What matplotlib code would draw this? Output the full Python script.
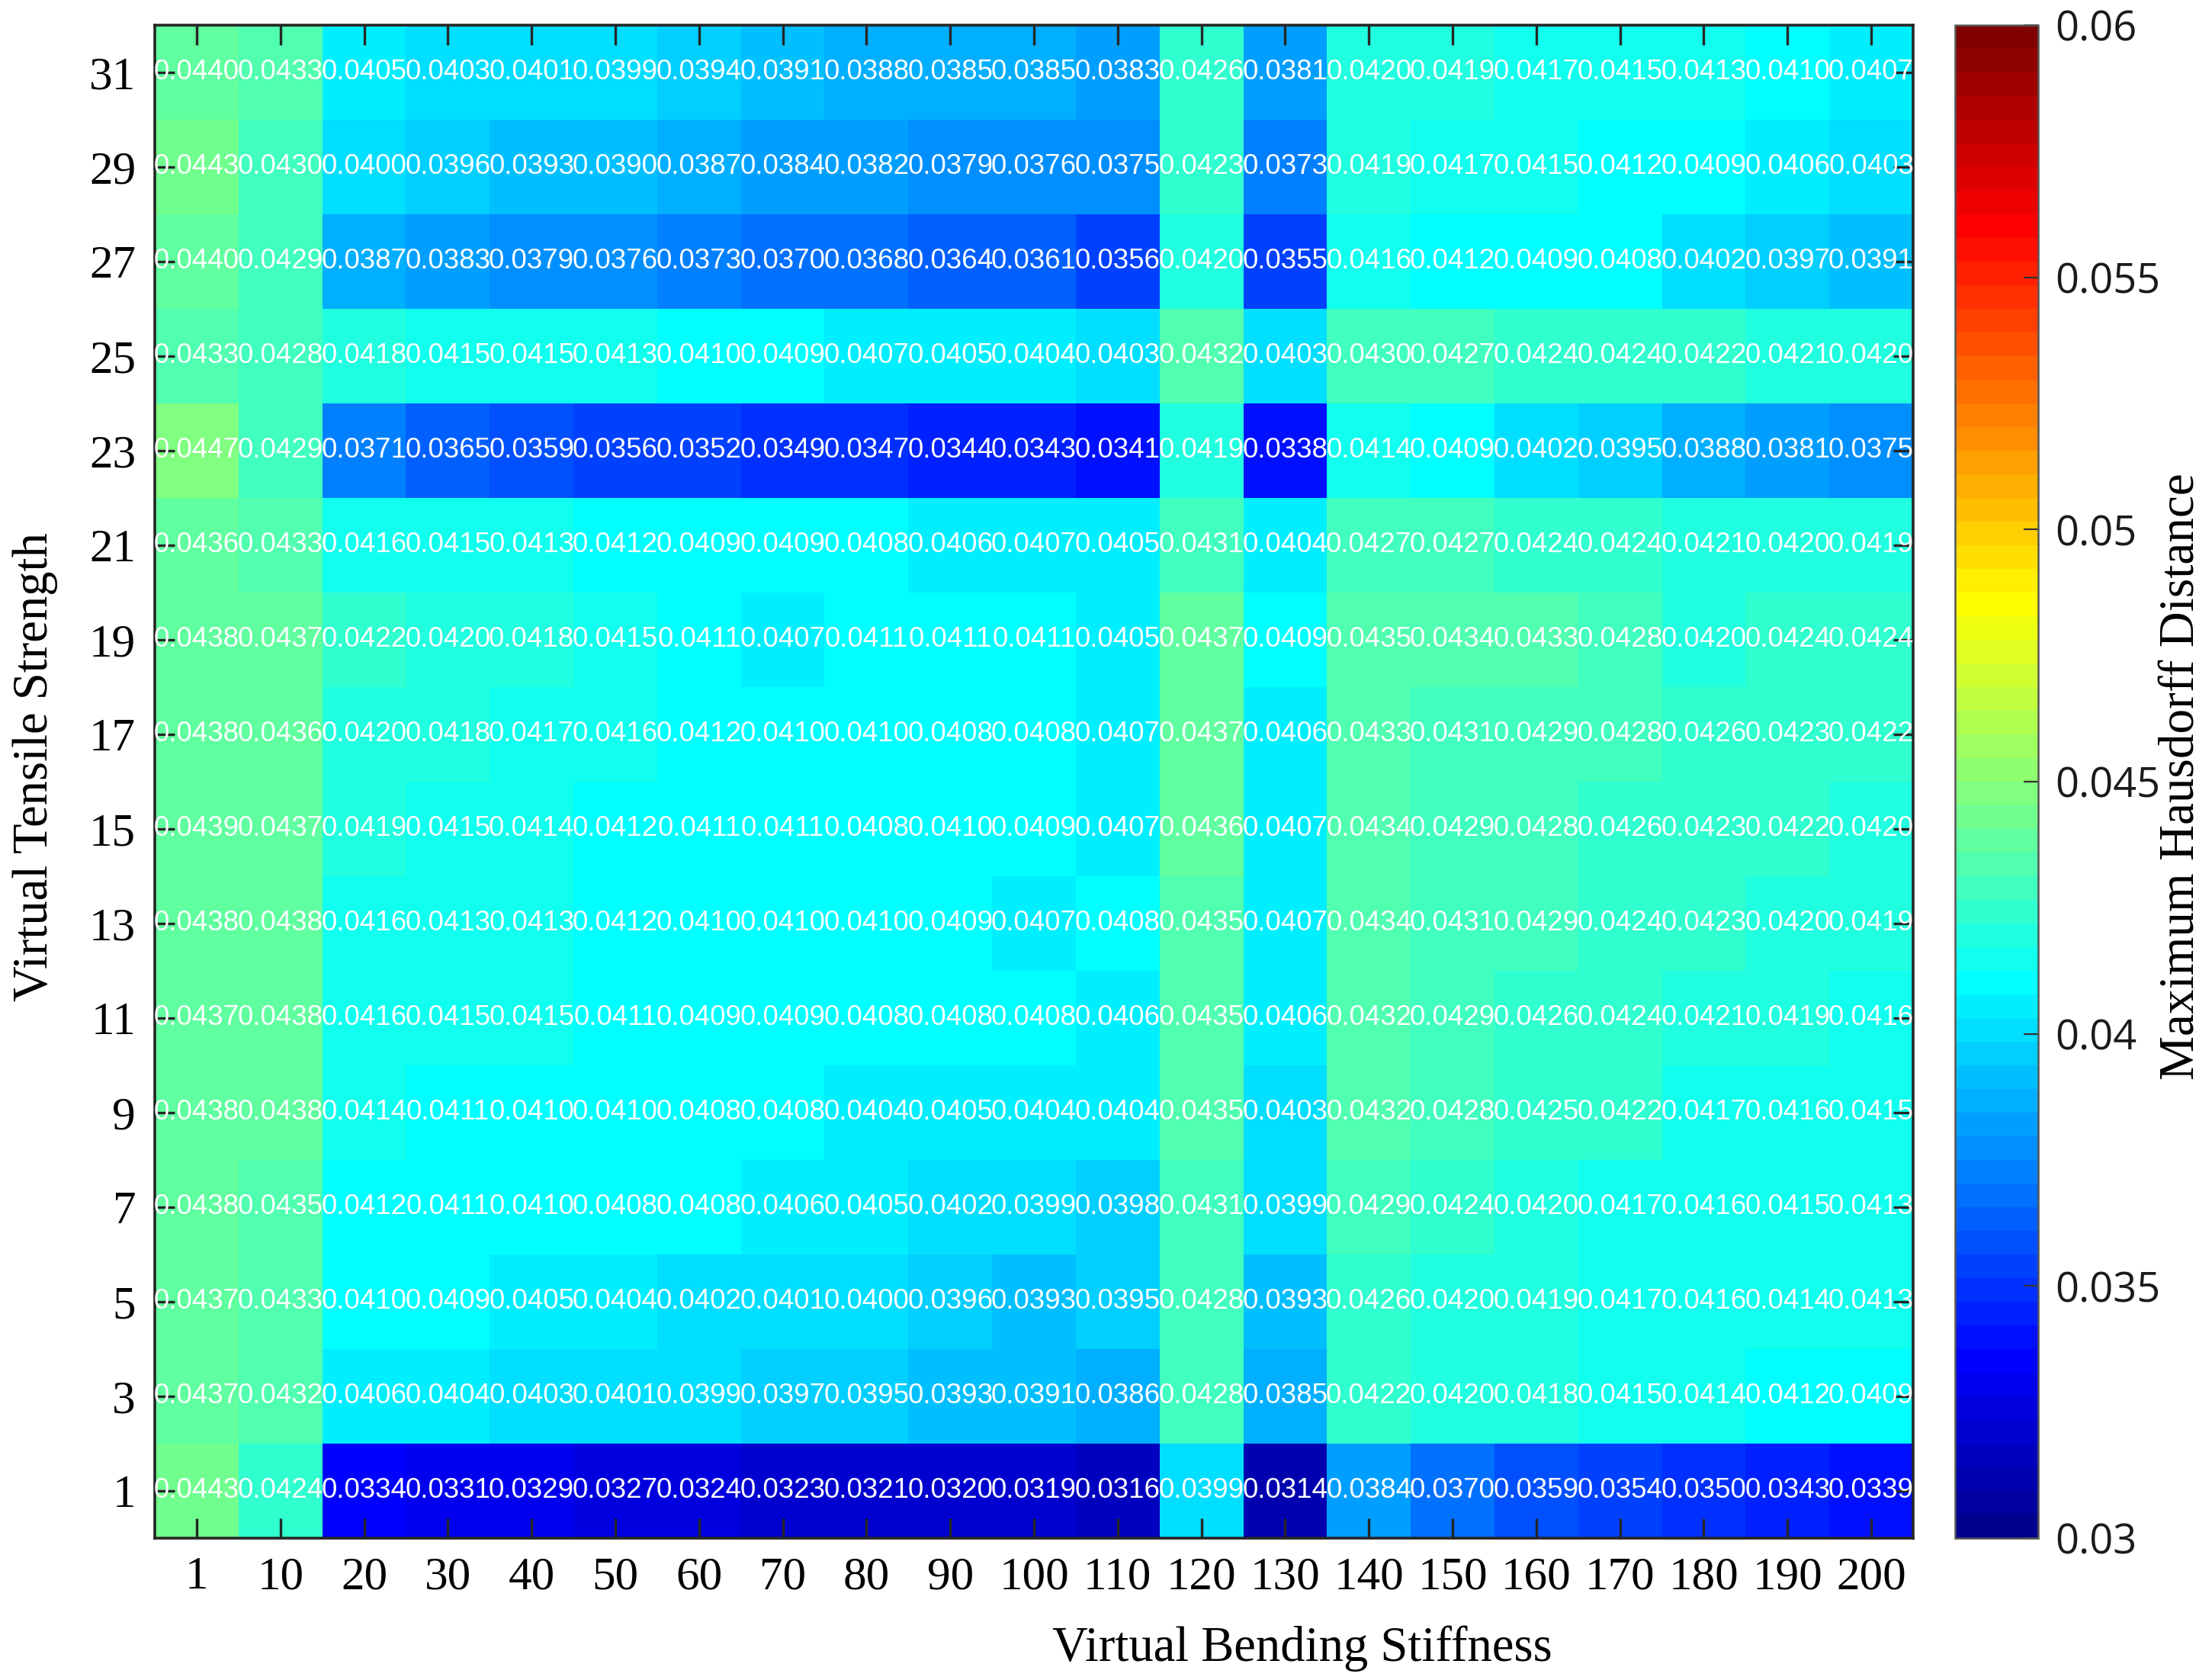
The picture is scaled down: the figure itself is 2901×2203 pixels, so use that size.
import numpy as np
import matplotlib
matplotlib.use("Agg")
import matplotlib.pyplot as plt
from matplotlib.colors import ListedColormap, Normalize

# ---------------- data ----------------
bending_labels = ["1", "10", "20", "30", "40", "50", "60", "70", "80", "90", "100",
                  "110", "120", "130", "140", "150", "160", "170", "180", "190", "200"]
tensile_values = [1, 3, 5, 7, 9, 11, 13, 15, 17, 19, 21, 23, 25, 27, 29, 31]

ts_1  = [0.0443, 0.0424, 0.0334, 0.0331, 0.0329, 0.0327, 0.0324, 0.0323, 0.0321, 0.0320, 0.0319, 0.0316, 0.0399, 0.0314, 0.0384, 0.0370, 0.0359, 0.0354, 0.0350, 0.0343, 0.0339]
ts_3  = [0.0437, 0.0432, 0.0406, 0.0404, 0.0403, 0.0401, 0.0399, 0.0397, 0.0395, 0.0393, 0.0391, 0.0386, 0.0428, 0.0385, 0.0422, 0.0420, 0.0418, 0.0415, 0.0414, 0.0412, 0.0409]
ts_5  = [0.0437, 0.0433, 0.0410, 0.0409, 0.0405, 0.0404, 0.0402, 0.0401, 0.0400, 0.0396, 0.0393, 0.0395, 0.0428, 0.0393, 0.0426, 0.0420, 0.0419, 0.0417, 0.0416, 0.0414, 0.0413]
ts_7  = [0.0438, 0.0435, 0.0412, 0.0411, 0.0410, 0.0408, 0.0408, 0.0406, 0.0405, 0.0402, 0.0399, 0.0398, 0.0431, 0.0399, 0.0429, 0.0424, 0.0420, 0.0417, 0.0416, 0.0415, 0.0413]
ts_9  = [0.0438, 0.0438, 0.0414, 0.0411, 0.0410, 0.0410, 0.0408, 0.0408, 0.0404, 0.0405, 0.0404, 0.0404, 0.0435, 0.0403, 0.0432, 0.0428, 0.0425, 0.0422, 0.0417, 0.0416, 0.0415]
ts_11 = [0.0437, 0.0438, 0.0416, 0.0415, 0.0415, 0.0411, 0.0409, 0.0409, 0.0408, 0.0408, 0.0408, 0.0406, 0.0435, 0.0406, 0.0432, 0.0429, 0.0426, 0.0424, 0.0421, 0.0419, 0.0416]
ts_13 = [0.0438, 0.0438, 0.0416, 0.0413, 0.0413, 0.0412, 0.0410, 0.0410, 0.0410, 0.0409, 0.0407, 0.0408, 0.0435, 0.0407, 0.0434, 0.0431, 0.0429, 0.0424, 0.0423, 0.0420, 0.0419]
ts_15 = [0.0439, 0.0437, 0.0419, 0.0415, 0.0414, 0.0412, 0.0411, 0.0411, 0.0408, 0.0410, 0.0409, 0.0407, 0.0436, 0.0407, 0.0434, 0.0429, 0.0428, 0.0426, 0.0423, 0.0422, 0.0420]
ts_17 = [0.0438, 0.0436, 0.0420, 0.0418, 0.0417, 0.0416, 0.0412, 0.0410, 0.0410, 0.0408, 0.0408, 0.0407, 0.0437, 0.0406, 0.0433, 0.0431, 0.0429, 0.0428, 0.0426, 0.0423, 0.0422]
ts_19 = [0.0438, 0.0437, 0.0422, 0.0420, 0.0418, 0.0415, 0.0411, 0.0407, 0.0411, 0.0411, 0.0411, 0.0405, 0.0437, 0.0409, 0.0435, 0.0434, 0.0433, 0.0428, 0.0420, 0.0424, 0.0424]
ts_21 = [0.0436, 0.0433, 0.0416, 0.0415, 0.0413, 0.0412, 0.0409, 0.0409, 0.0408, 0.0406, 0.0407, 0.0405, 0.0431, 0.0404, 0.0427, 0.0427, 0.0424, 0.0424, 0.0421, 0.0420, 0.0419]
ts_23 = [0.0447, 0.0429, 0.0371, 0.0365, 0.0359, 0.0356, 0.0352, 0.0349, 0.0347, 0.0344, 0.0343, 0.0341, 0.0419, 0.0338, 0.0414, 0.0409, 0.0402, 0.0395, 0.0388, 0.0381, 0.0375]
ts_25 = [0.0433, 0.0428, 0.0418, 0.0415, 0.0415, 0.0413, 0.0410, 0.0409, 0.0407, 0.0405, 0.0404, 0.0403, 0.0432, 0.0403, 0.0430, 0.0427, 0.0424, 0.0424, 0.0422, 0.0421, 0.0420]
ts_27 = [0.0440, 0.0429, 0.0387, 0.0383, 0.0379, 0.0376, 0.0373, 0.0370, 0.0368, 0.0364, 0.0361, 0.0356, 0.0420, 0.0355, 0.0416, 0.0412, 0.0409, 0.0408, 0.0402, 0.0397, 0.0391]
ts_29 = [0.0443, 0.0430, 0.0400, 0.0396, 0.0393, 0.0390, 0.0387, 0.0384, 0.0382, 0.0379, 0.0376, 0.0375, 0.0423, 0.0373, 0.0419, 0.0417, 0.0415, 0.0412, 0.0409, 0.0406, 0.0403]
ts_31 = [0.0440, 0.0433, 0.0405, 0.0403, 0.0401, 0.0399, 0.0394, 0.0391, 0.0388, 0.0385, 0.0385, 0.0383, 0.0426, 0.0381, 0.0420, 0.0419, 0.0417, 0.0415, 0.0413, 0.0410, 0.0407]

cbar_ticks = [0.03, 0.035, 0.04, 0.045, 0.05, 0.055, 0.06]
cbar_ticklabels = ["0.03", "0.035", "0.04", "0.045", "0.05", "0.055", "0.06"]

Z = np.array([ts_1, ts_3, ts_5, ts_7, ts_9, ts_11, ts_13, ts_15,
              ts_17, ts_19, ts_21, ts_23, ts_25, ts_27, ts_29, ts_31])


# MATLAB-style jet(64) colormap
def matlab_jet(m=64):
    n = int(np.ceil(m / 4))
    u = np.concatenate([np.arange(1, n + 1) / n, np.ones(n - 1), np.arange(n, 0, -1) / n])
    g = int(np.ceil(n / 2)) - (1 if m % 4 == 1 else 0) + np.arange(1, len(u) + 1)
    r = g + n
    b = g - n
    J = np.zeros((m, 3))
    for idx, col in ((r, 0), (g, 1), (b, 2)):
        mask = (idx >= 1) & (idx <= m)
        J[idx[mask] - 1, col] = u[mask]
    return ListedColormap(J)


cmap = matlab_jet(64)
norm = Normalize(vmin=0.03, vmax=0.06)

W, H = 2901, 2203
fig = plt.figure(figsize=(W / 100, H / 100), dpi=100)
ax_l, ax_r, ax_t, ax_b = 203, 2509, 33, 2017
ax = fig.add_axes([ax_l / W, 1 - ax_b / H, (ax_r - ax_l) / W, (ax_b - ax_t) / H])
cb_l, cb_r = 2564, 2673
cax = fig.add_axes([cb_l / W, 1 - ax_b / H, (cb_r - cb_l) / W, (ax_b - ax_t) / H])

nx = len(bending_labels)
ny = len(tensile_values)
xs = np.arange(nx)
ys = np.array(tensile_values)
# cell edges
xedges = np.arange(nx + 1) - 0.5
yedges = np.concatenate([[ys[0] - 1], (ys[:-1] + ys[1:]) / 2, [ys[-1] + 1]])

mesh = ax.pcolormesh(xedges, yedges, Z, cmap=cmap, norm=norm, shading="flat")
ax.set_xlim(xedges[0], xedges[-1])
ax.set_ylim(yedges[0], yedges[-1])

for i, yv in enumerate(ys):
    for j, xv in enumerate(xs):
        ax.text(xv, yv, f"{Z[i, j]:.4f}", ha="center", va="center",
                color="white", fontsize=26.5, family="Liberation Sans",
                clip_on=True)

spine_col = "#262626"
ax.set_xticks(xs)
ax.set_xticklabels(bending_labels)
ax.set_yticks(ys)
ax.set_yticklabels([str(v) for v in tensile_values])
ax.tick_params(axis="both", direction="in", length=19, width=2.4, color=spine_col,
               top=True, right=True, labelsize=44)
ax.tick_params(axis="x", pad=17)
ax.tick_params(axis="y", pad=18)
for lab in ax.get_xticklabels() + ax.get_yticklabels():
    lab.set_family("Liberation Serif")
    lab.set_color("black")
for s in ax.spines.values():
    s.set_linewidth(2.6)
    s.set_color(spine_col)

ax.set_xlabel("Virtual Bending Stiffness", family="Liberation Serif", fontsize=46.5)
ax.xaxis.set_label_coords((1708 - ax_l) / (ax_r - ax_l), (ax_b - 2162) / (ax_b - ax_t))
ax.xaxis.label.set_va("center")
ax.xaxis.label.set_ha("center")

ax.set_ylabel("Virtual Tensile Strength", family="Liberation Serif", fontsize=46.5)
ax.yaxis.set_label_coords((46 - ax_l) / (ax_r - ax_l), (ax_b - 1006) / (ax_b - ax_t))
ax.yaxis.label.set_va("center")
ax.yaxis.label.set_ha("center")
ax.yaxis.label.set_rotation_mode("default")

cb = fig.colorbar(mesh, cax=cax, ticks=cbar_ticks)
cb.ax.set_yticklabels(cbar_ticklabels)
cb.outline.set_linewidth(1.8)
cb.outline.set_edgecolor("#555555")
cax.tick_params(axis="y", direction="in", length=14, width=1.6, color="#333333",
                right=True, left=False, labelsize=39, pad=16)
for lab in cax.get_yticklabels():
    lab.set_family("Open Sans")
    lab.set_color("#1a1a1a")
cb.set_label("Maximum Hausdorff Distance", family="Liberation Serif", fontsize=47)
cax.yaxis.set_label_coords((2862 - cb_l) / (cb_r - cb_l), (ax_b - 1018) / (ax_b - ax_t))
cax.yaxis.label.set_va("center")
cax.yaxis.label.set_ha("center")
cax.yaxis.label.set_rotation_mode("default")

fig.savefig("out.png", dpi=100)
